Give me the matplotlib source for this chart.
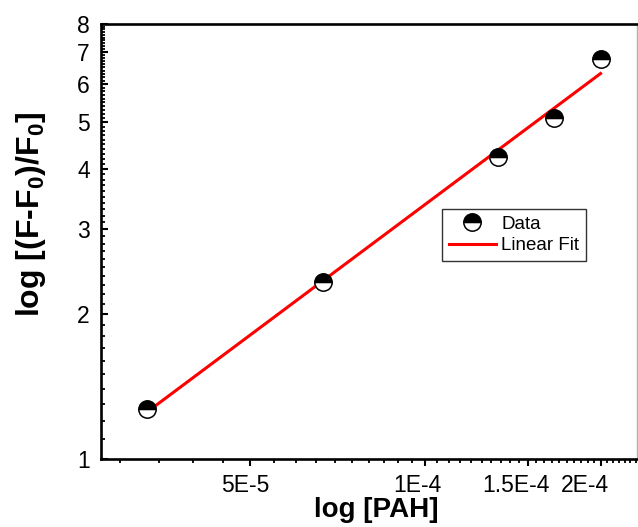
import numpy as np
import matplotlib.pyplot as plt
from matplotlib.ticker import FixedLocator, FixedFormatter, NullFormatter
from matplotlib.transforms import ScaledTranslation

plt.rcParams['font.family'] = ['Liberation Sans', 'DejaVu Sans']
plt.rcParams['mathtext.fontset'] = 'custom'
plt.rcParams['mathtext.rm'] = 'Liberation Sans'
plt.rcParams['mathtext.bf'] = 'Liberation Sans:bold'

# PAH concentration (M) and fluorescence response
pah = [3.33e-5, 6.67e-5, 1.333e-4, 1.667e-4, 2.0e-4]
response = [1.267, 2.336, 4.24, 5.11, 6.755]

x_major = [5e-5, 1e-4, 1.5e-4, 2e-4]
x_major_labels = ['5E-5', '1E-4', '1.5E-4', '2E-4']
y_major = [1, 2, 3, 4, 5, 6, 7, 8]
y_major_labels = ['1', '2', '3', '4', '5', '6', '7', '8']

# straight-line fit in log-log space
lx = np.log10(pah)
ly = np.log10(response)
slope, intercept = np.polyfit(lx, ly, 1)
fit_x = np.array([pah[0], pah[-1]])
fit_y = 10 ** (intercept + slope * np.log10(fit_x))

fig = plt.figure(figsize=(6.38, 5.27), dpi=100)
ax = fig.add_axes([101 / 638, 68 / 527, 536 / 638, 435 / 527])

ax.plot(fit_x, fit_y, color='red', lw=2.2, label='Linear Fit', zorder=2)
ax.plot(pah, response, ls='none', marker='o', markersize=12.5, fillstyle='top',
        markerfacecolor='black', markerfacecoloralt='white',
        markeredgecolor='black', markeredgewidth=1.1, label='Data', zorder=3)

ax.set_xscale('log')
ax.set_yscale('log')
ax.set_xlim(2.78e-5, 2.31e-4)
ax.set_ylim(1, 8)

ax.xaxis.set_major_locator(FixedLocator(x_major))
ax.xaxis.set_major_formatter(FixedFormatter(x_major_labels))
x_minor = [v for v in np.arange(3e-5, 2.31e-4, 5e-6)
           if min(abs(v - m) for m in x_major) > 1e-7]
ax.xaxis.set_minor_locator(FixedLocator(x_minor))
ax.xaxis.set_minor_formatter(NullFormatter())

ax.yaxis.set_major_locator(FixedLocator(y_major))
ax.yaxis.set_major_formatter(FixedFormatter(y_major_labels))
y_minor = [v for v in np.arange(1.1, 8.0, 0.1) if abs(v - round(v)) > 1e-6]
ax.yaxis.set_minor_locator(FixedLocator(y_minor))
ax.yaxis.set_minor_formatter(NullFormatter())

ax.tick_params(axis='x', which='major', direction='out', length=5, width=1.5,
               labelsize=16.5, pad=6)
ax.tick_params(axis='x', which='minor', direction='out', length=3, width=1.3)
ax.tick_params(axis='y', which='major', direction='in', length=5, width=1.5,
               labelsize=16.5, pad=8)
ax.tick_params(axis='y', which='minor', direction='in', length=3, width=1.3)

# x tick labels sit a little left of their ticks, drifting more to the right
for lbl, dx in zip(ax.get_xticklabels(), [-4, -8, -12, -16]):
    lbl.set_transform(lbl.get_transform()
                      + ScaledTranslation(dx / 100, 0, fig.dpi_scale_trans))

for side in ['left', 'bottom', 'top']:
    ax.spines[side].set_linewidth(1.9)
ax.spines['right'].set_color('#b0b0b0')
ax.spines['right'].set_linewidth(1.0)

ax.set_xlabel('log [PAH]', fontsize=20, fontweight='bold')
ax.xaxis.set_label_coords(0.513, -0.088)
ax.set_ylabel(r'log [(F-F$_\mathbf{0}$)/F$_\mathbf{0}$]', fontsize=23,
              fontweight='bold')
ax.yaxis.set_label_coords(-0.098, 0.562)

handles, labels = ax.get_legend_handles_labels()
leg = ax.legend(handles[::-1], labels[::-1], loc='upper left',
                bbox_to_anchor=(0.637, 0.574), fontsize=13.5, frameon=True,
                fancybox=False, edgecolor='black', borderaxespad=0,
                handlelength=2.5, handletextpad=0.3, borderpad=0.35,
                labelspacing=0.22)
leg.get_frame().set_linewidth(1.0)

fig.savefig('out.png', dpi=100)
